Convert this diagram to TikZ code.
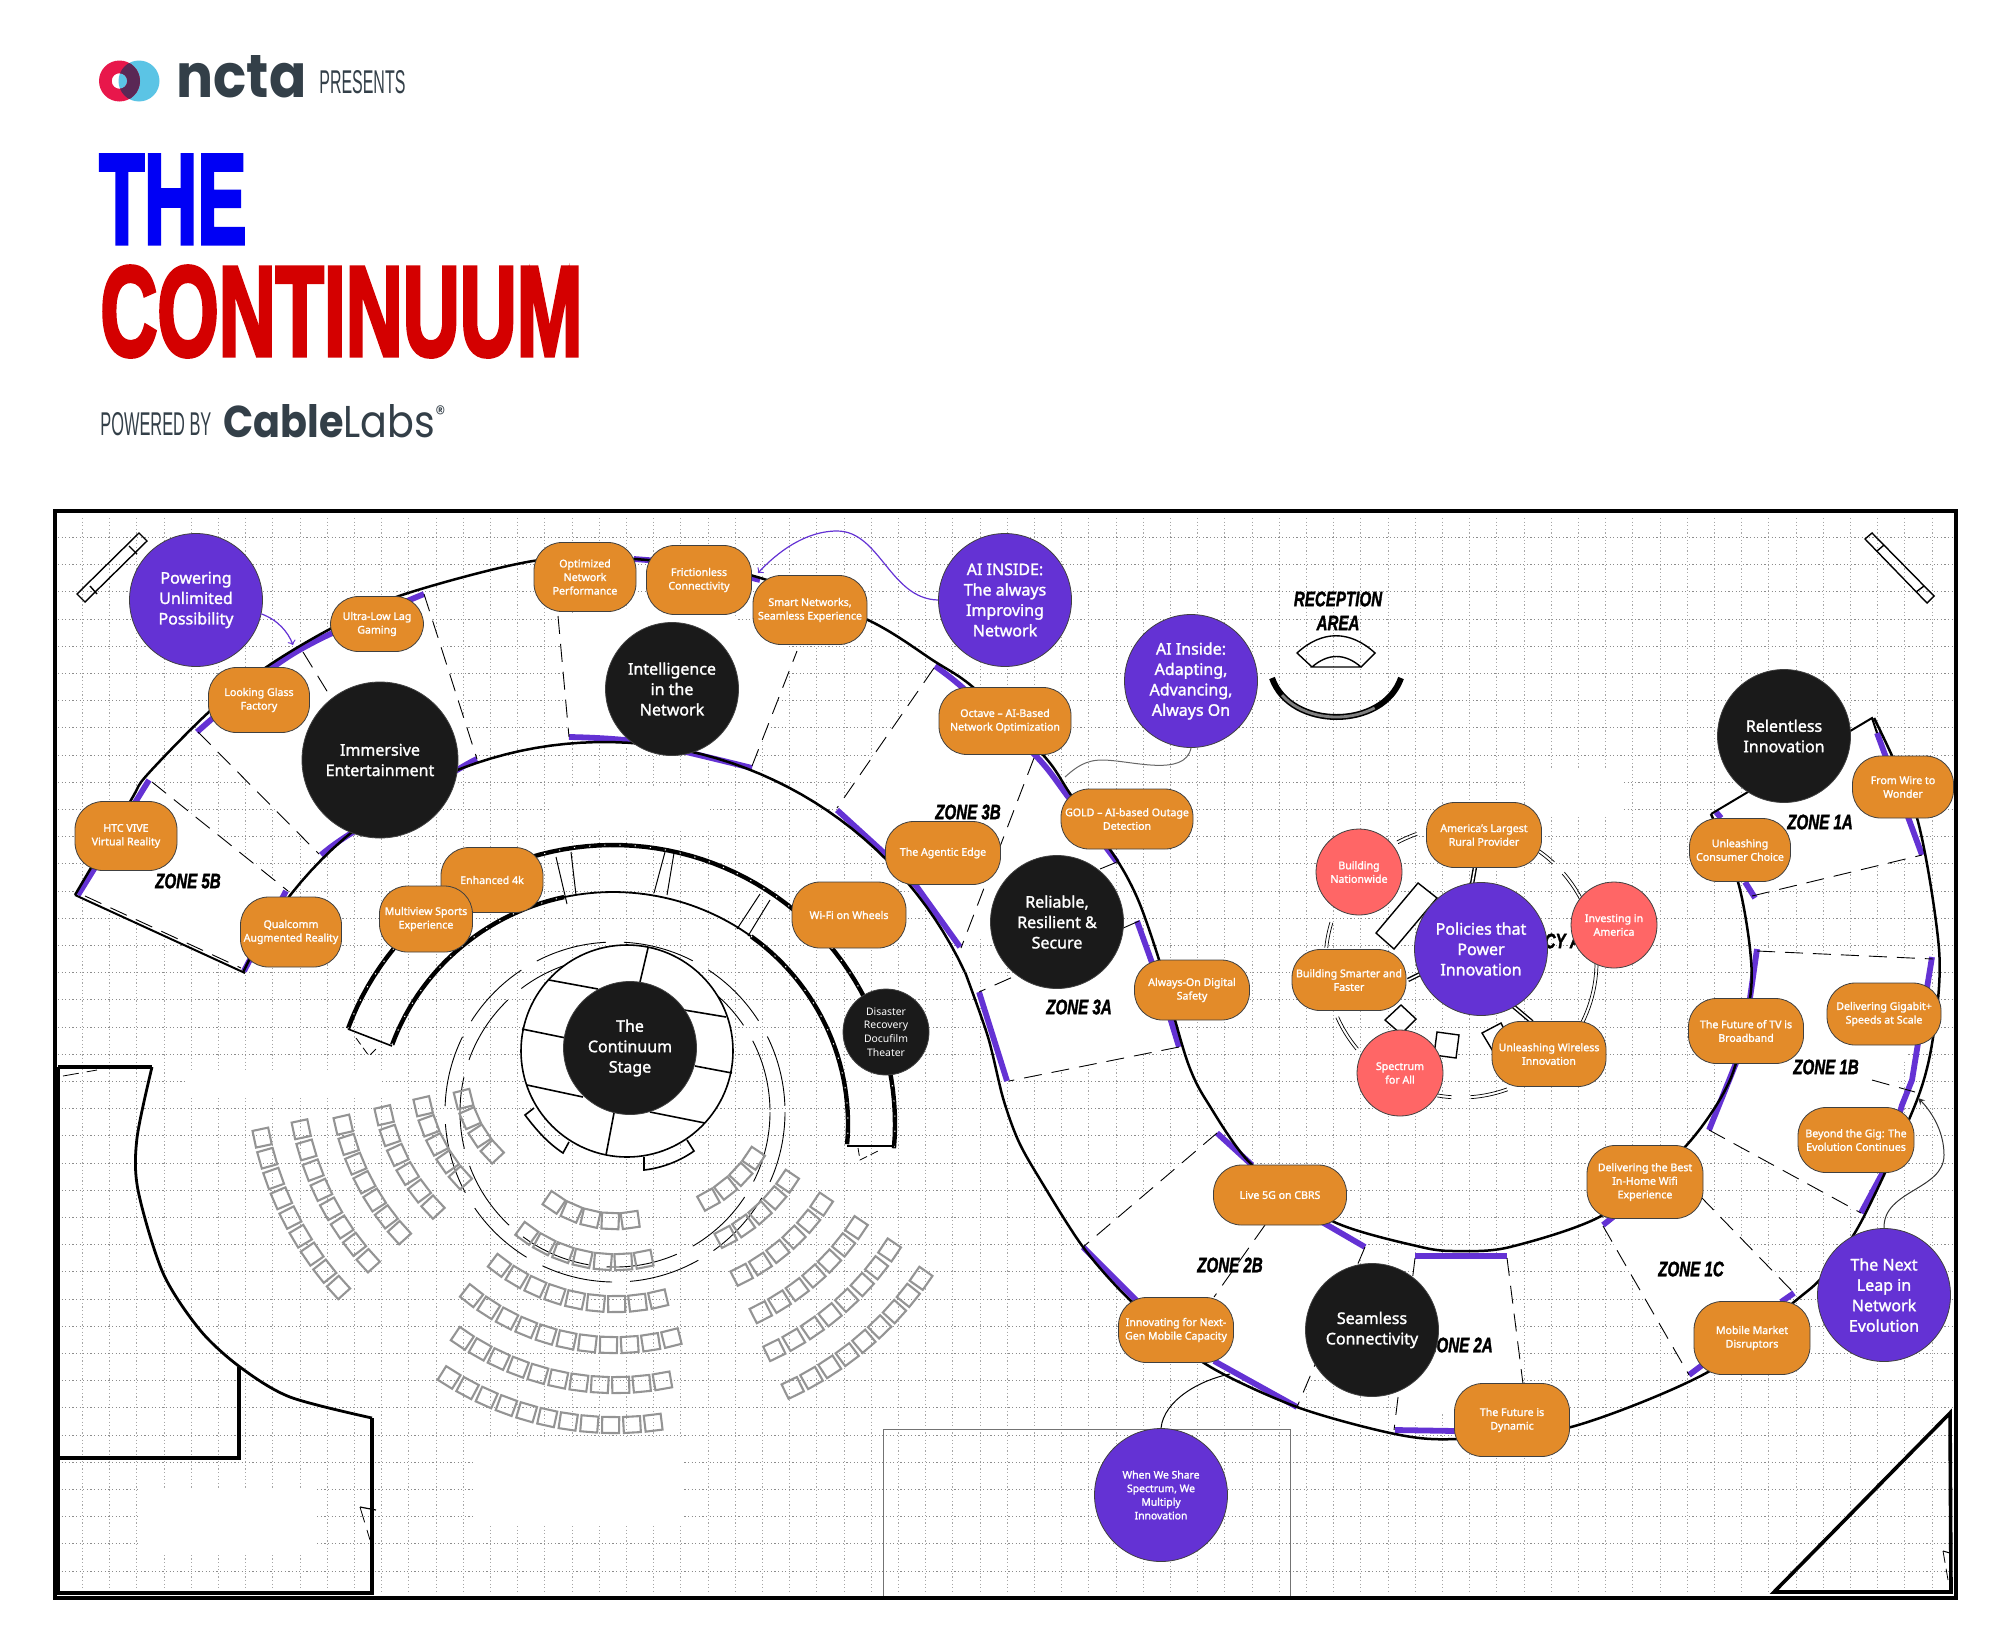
\documentclass[tikz,border=0pt]{standalone}
\usepackage{fontspec}
\usepackage{graphicx}
\usepackage{xcolor}
\usepackage{tikz}
\setmainfont{Noto Sans}[BoldFont=*,BoldFeatures={FakeBold=1.6}]
\setsansfont{Liberation Sans}
\newfontfamily\labsfont{Poppins}
\newfontfamily\headfont[BoldFeatures={FakeBold=3.5}]{Liberation Sans}
\newfontfamily\zonefont[BoldItalicFeatures={FakeBold=2}]{Liberation Sans}
\definecolor{boxorange}{RGB}{227,139,41}
\definecolor{zonepurple}{RGB}{100,50,212}
\definecolor{bubblepink}{RGB}{255,102,102}
\definecolor{darkdot}{RGB}{26,26,26}
\definecolor{logogray}{RGB}{51,63,72}
\definecolor{logored}{RGB}{232,23,75}
\definecolor{logoblue}{RGB}{91,196,229}
\definecolor{logodark}{RGB}{90,40,85}
\definecolor{theblue}{RGB}{0,0,245}
\definecolor{thered}{RGB}{212,0,0}
\tikzset{
	obox/.style 2 args={rectangle,rounded corners=14pt,draw=black!75,thin,fill=boxorange,text=white,align=center,inner sep=0pt,minimum width=#1*0.5pt,minimum height=#2*0.5pt,font=\fontsize{5.3pt}{6.8pt}\selectfont\bfseries},
	bubble/.style={circle,draw=black!75,thin,text=white,align=center,inner sep=0pt,minimum size=#1*1pt,font=\fontsize{8pt}{10.2pt}\selectfont\bfseries},
	pbub/.style={bubble=#1,fill=zonepurple},
	kbub/.style={bubble=#1,fill=darkdot},
	rbub/.style={circle,draw=black!75,thin,fill=bubblepink,text=white,align=center,inner sep=0pt,minimum size=43pt,font=\fontsize{5.3pt}{6.8pt}\selectfont\bfseries},
	zonelabel/.style={inner sep=0pt,xscale=0.72,align=center,font=\zonefont\fontsize{10.5pt}{12pt}\selectfont\bfseries\itshape},
	wallline/.style={line width=1.25pt,black},
	zonebar/.style={line width=2.9pt,zonepurple},
	zonedash/.style={line width=0.45pt,black,dash pattern=on 9pt off 5pt},
	zonefill/.style={fill=white,draw=none},
	roomline/.style={line width=1.7pt,black},
	stageline/.style={line width=0.8pt,black},
	thickwall/.style={line width=2.2pt,black,postaction={draw,white,line width=0.5pt,dash pattern=on 0.6pt off 7pt}},
	ringline/.style={line width=0.45pt,black,dash pattern=on 36pt off 9pt},
	doublebar/.style={draw=black,double=white,line width=0.7pt,double distance=0.8pt},
	chair/.style={line width=1.05pt,black!42},
}
\newcommand{\seatrow}[6]{\foreach \seatnum in {1,...,#6}{\pgfmathsetmacro{\seatang}{#4+(\seatnum-1)*(#5-#4)/(#6-1)}\draw[chair,shift={({#1+#3*cos(\seatang)},{#2+#3*sin(\seatang)})},rotate=-\seatang] (-8,-8.5) rectangle (8,8.5);}}
\newcommand{\ringarc}[2]{\draw[line width=0.35pt] plot[domain=#1:#2,samples=12] ({1461+134*cos(\x)},{962+134*sin(\x)}); \draw[line width=0.35pt] plot[domain=#1:#2,samples=12] ({1461+137*cos(\x)},{962+137*sin(\x)});}
\begin{document}
\begin{tikzpicture}[x=0.5pt,y=-0.5pt]
	\useasboundingbox (0,0) rectangle (2000,1638);

	\fill[logoblue] (139,81) circle[radius=20.5];
	\fill[logored,even odd rule] (119.5,81) circle[radius=20.5] (119.5,81) circle[radius=7.8];
	\begin{scope}
		\clip (139,81) circle[radius=20.5];
		\fill[logodark,even odd rule] (119.5,81) circle[radius=20.5] (119.5,81) circle[radius=7.8];
	\end{scope}
	\node[anchor=north west,inner sep=0pt] (nctaword) at (176,55) {\resizebox{65pt}{21pt}{\color{logogray}\labsfont\bfseries ncta}};
	\node[anchor=north west,inner sep=0pt] (presents) at (319,70) {\resizebox{43pt}{11.5pt}{\color{logogray}\sffamily PRESENTS}};
	\node[anchor=north west,inner sep=0pt] (thetitle) at (99,155) {\resizebox{73.5pt}{44pt}{\color{theblue}\headfont\bfseries THE}};
	\node[anchor=north west,inner sep=0pt] (conttitle) at (100,266) {\resizebox{241pt}{44.5pt}{\color{thered}\headfont\bfseries CONTINUUM}};
	\node[anchor=north west,inner sep=0pt] (powered) at (100,412) {\resizebox{55.5pt}{11.5pt}{\color{logogray}\sffamily POWERED BY}};
	\node[anchor=north west,inner sep=0pt] (cablelabs) at (223,404) {\resizebox{112pt}{16.5pt}{\color{logogray}\labsfont{\bfseries Cable}Labs\textsuperscript{\tiny ®}}};

	\foreach \gx in {0,...,69}
		\draw[gray!70,line width=0.5pt,dash pattern=on 0.6pt off 1.2pt] ({82.4-27.2+27.2*\gx},518) -- ({82.4-27.2+27.2*\gx},1592);
	\foreach \gy in {0,...,38}
		\draw[gray!90,line width=0.5pt,dash pattern=on 0.6pt off 1.2pt] (58,{537.5+27.2*\gy}) -- (1952,{537.5+27.2*\gy});
	\fill[white] (549,788) rectangle (710,830);
	\fill[white] (1527,770) rectangle (1623,815);
	\fill[white] (474,1440) rectangle (682,1525);
	\fill[white] (140,1488) rectangle (317,1555);
	\fill[white] (187,1072) rectangle (382,1098);

	\fill[zonefill] (78,895) -- (149,780) -- (288,891) -- (245,971) -- cycle;
	\fill[zonefill] (197,732) -- (268,666) -- (330,629) -- (424,594) -- (477,759) -- (400,790) -- (321,855) -- cycle;
	\fill[zonefill] (558,616) -- (569,737) -- (620,745) -- (752,766) -- (797,651) -- (700,600) -- cycle;
	\fill[zonefill] (935,666) -- (1036,756) -- (1117,862) -- (961,948) -- (837,808) -- cycle;
	\fill[zonefill] (1137,921) -- (1179,1047) -- (1009,1081) -- (979,992) -- cycle;
	\fill[zonefill] (1217,1133) -- (1083,1247) -- (1131,1301) -- (1214,1361) -- (1297,1407) -- (1365,1247) -- (1252,1165) -- cycle;
	\fill[zonefill] (1415,1258) -- (1507,1258) -- (1523,1384) -- (1394,1430) -- cycle;
	\fill[zonefill] (1603,1226) -- (1701,1197) -- (1794,1293) -- (1689,1375) -- cycle;
	\fill[zonefill] (1709,1130) -- (1757,949) -- (1933,959) -- (1861,1213) -- cycle;
	\fill[zonefill] (1752,896) -- (1922,855) -- (1872,718) -- (1711,814) -- cycle;

	\draw[zonebar] (78,895) -- (149,780);
	\draw[zonebar] plot[smooth] coordinates {(197,732) (272,668) (326,636) (424,594)};
	\draw[zonebar] (286,891) -- (244,971);
	\draw[zonebar] plot[smooth] coordinates {(321,855) (350,834) (457,770) (477,759)};
	\draw[zonebar] plot[smooth] coordinates {(569,737) (640,742) (752,768)};
	\draw[zonebar] (634,559) -- (660,561);
	\draw[zonebar] (740,575) -- (760,580);
	\draw[zonebar] plot[smooth] coordinates {(935,666) (963,688) (1036,756) (1069,798) (1117,862)};
	\draw[zonebar] (837,810) -- (883,852) -- (917,887) -- (960,947);
	\draw[zonebar] (1137,921) -- (1160,985) -- (1179,1047);
	\draw[zonebar] (979,992) -- (1007,1081);
	\draw[zonebar] (1217,1133) -- (1252,1165);
	\draw[zonebar] (1322,1222) -- (1365,1247);
	\draw[zonebar] (1415,1256) -- (1507,1256);
	\draw[zonebar] (1603,1225) -- (1613,1217);
	\draw[zonebar] (1709,1130) -- (1736,1063) -- (1750,998) -- (1757,949);
	\draw[zonebar] (1861,1213) -- (1883,1172) -- (1902,1105) -- (1912,1080) -- (1932,957);
	\draw[zonebar] (1083,1247) -- (1137,1301);
	\draw[zonebar] (1214,1361) -- (1297,1407);
	\draw[zonebar] (1395,1430) -- (1456,1431);
	\draw[zonebar] (1689,1375) -- (1705,1363);
	\draw[zonebar] (1781,1302) -- (1794,1293);
	\draw[zonebar] (1716,812) -- (1721,818);
	\draw[zonebar] (1745,882) -- (1755,898);
	\draw[zonebar] (1877,733) -- (1922,855);

	\draw[wallline] plot[smooth] coordinates {(75,895) (131,800) (147,775) (210,711) (268,666) (330,629) (402,595) (533,561) (634,559) (750,575) (868,620) (934,661) (974,688) (1044,756) (1071,795) (1117,860) (1139,902) (1160,963) (1175,1020) (1189,1066) (1206,1100) (1252,1165) (1332,1221) (1421,1247) (1459,1251) (1510,1247) (1603,1215) (1684,1148) (1730,1080) (1750,998) (1750,949) (1738,882) (1711,814)};
	\draw[wallline] plot[domain=-155:-25,samples=60] ({604+398*cos(\x)},{1140+398*sin(\x)});
	\draw[wallline] plot[smooth] coordinates {(965,972) (988,1037) (1003,1098) (1018,1140) (1038,1176) (1083,1247) (1131,1301) (1204,1363) (1297,1407) (1395,1434) (1456,1439) (1571,1427) (1708,1372) (1794,1302) (1823,1276) (1861,1222) (1917,1100) (1934,1031) (1939,949) (1917,818) (1874,718)};
	\draw[line width=1pt,black] (75,895) -- (245,973);
	\draw[line width=1pt,black] (1711,814) -- (1872,718) -- (1877,733);

	\draw[zonedash] (152,782) -- (288,891);
	\draw[zonedash] (198,732) -- (319,854);
	\draw[zonedash] (303,652) -- (330,696);
	\draw[zonedash] (424,594) -- (477,759);
	\draw[zonedash] (85,896) -- (241,968);
	\draw[zonedash] (558,616) -- (569,737);
	\draw[zonedash] (752,766) -- (797,651);
	\draw[zonedash] (934,668) -- (837,808);
	\draw[zonedash] (1034,758) -- (961,948);
	\draw[zonedash] (1100,869) -- (1117,862);
	\draw[zonedash] (1139,921) -- (979,992);
	\draw[zonedash] (1179,1047) -- (1009,1081);
	\draw[zonedash] (1217,1133) -- (1083,1247);
	\draw[zonedash] (1265,1225) -- (1214,1297);
	\draw[zonedash] (1365,1247) -- (1297,1407);
	\draw[zonedash] (1415,1258) -- (1394,1430);
	\draw[zonedash] (1507,1258) -- (1523,1384);
	\draw[zonedash] (1603,1226) -- (1689,1375);
	\draw[zonedash] (1701,1197) -- (1794,1293);
	\draw[zonedash] (1709,1130) -- (1861,1213);
	\draw[zonedash] (1752,896) -- (1922,855);
	\draw[zonedash] (1757,951) -- (1933,959);
	\draw[zonedash] (1872,1080) -- (1915,1092);

	\draw[roomline] (58,1067) -- (152,1067);
	\draw[line width=1.4pt] plot[smooth] coordinates {(152,1067) (137,1138) (138,1190) (163,1273) (200,1330) (240,1367) (290,1397) (372,1418)};
	\draw[roomline] (372,1418) -- (372,1593) -- (58,1593) -- (58,1067);
	\draw[roomline] (239,1367) -- (239,1458) -- (58,1458);
	\draw[line width=0.4pt,dash pattern=on 8pt off 4pt] (63,1076) -- (97,1070);
	\draw[line width=1.5pt] (65,1067) -- (72,1067);
	\draw[line width=0.4pt,dash pattern=on 8pt off 4pt] (360,1507) -- (370,1540);
	\draw[line width=0.6pt] (360,1507) -- (376,1510);
	\draw[line width=1.8pt] (1774,1592) -- (1950,1413) -- (1951,1592) -- cycle;
	\draw[line width=0.5pt] (1943,1551) -- (1950,1553);
	\draw[line width=0.4pt,dash pattern=on 6pt off 3pt] (1943,1551) -- (1948,1580);
	\draw[black!55,line width=0.5pt] (883,1598) -- (883,1429) -- (1290,1429) -- (1290,1598);
	\draw[line width=1.6pt] (55,511) rectangle (1956,1598);

	\draw[thickwall] plot[domain=-160:5,samples=70] ({613+3*cos(\x)+279*cos(\x)},{1124+279*sin(\x)});
	\draw[thickwall] plot[domain=-160:-102,samples=30] ({613+3*cos(\x)+232*cos(\x)},{1124+232*sin(\x)});
	\draw[line width=0.9pt] plot[domain=-102:-54,samples=30] ({613+3*cos(\x)+232*cos(\x)},{1124+232*sin(\x)});
	\draw[thickwall] plot[domain=-54:5,samples=30] ({613+3*cos(\x)+232*cos(\x)},{1124+232*sin(\x)});
	\draw[line width=0.8pt] (348,1029) -- (392,1046);
	\draw[line width=0.8pt] (847,1146) -- (894,1146);
	\draw[line width=0.5pt] (556,857) -- (567,904);
	\draw[line width=0.5pt] (571,852) -- (576,895);
	\draw[line width=0.5pt] (665,852) -- (654,893);
	\draw[line width=0.5pt] (674,853) -- (667,895);
	\draw[line width=0.5pt] (760,894) -- (737,929);
	\draw[line width=0.5pt] (770,900) -- (748,936);
	\draw[line width=0.4pt,dash pattern=on 4pt off 2pt] (356,1038) -- (369,1056) -- (378,1047);
	\draw[line width=0.4pt,dash pattern=on 4pt off 2pt] (858,1148) -- (860,1160) -- (880,1150);

	\draw[ringline] (615,1112) circle[radius=170];
	\draw[ringline] (615,1112) circle[radius=155];

	\fill[white] (627,1051) circle[radius=106];
	\draw[stageline] (627,1051) circle[radius=106];
	\draw[stageline] (522,1029) -- (566,1038);
	\draw[stageline] (695,1066) -- (732,1073);
	\draw[stageline] (684,1010) -- (726,1017);
	\draw[stageline] (527,1085) -- (583,1097);
	\draw[stageline] (614,1113) -- (606,1155);
	\draw[stageline] (650,1112) -- (705,1123);
	\draw[stageline] (648,948) -- (640,982);
	\draw[stageline] (549,980) -- (598,989);
	\draw[stageline] (534,1108) -- (525,1115) .. controls (538,1132) and (548,1143) .. (563,1153) -- (569,1142);
	\draw[stageline] (644,1157) -- (644,1170) .. controls (662,1168) and (680,1161) .. (694,1151) -- (687,1140);

	\seatrow{615}{1112}{109}{124}{82}{5}
	\seatrow{615}{1112}{150}{126}{79}{7}
	\seatrow{615}{1112}{192}{127}{77}{9}
	\seatrow{615}{1112}{233}{128}{76}{11}
	\seatrow{615}{1112}{273}{124}{80}{11}
	\seatrow{615}{1112}{313}{122}{83}{11}
	\seatrow{645}{1085}{131}{61}{34}{4}
	\seatrow{645}{1085}{172}{62}{34}{5}
	\seatrow{645}{1085}{213}{63}{34}{6}
	\seatrow{645}{1085}{255}{63}{34}{7}
	\seatrow{645}{1085}{295}{64}{34}{8}
	\seatrow{645}{1085}{337}{64}{35}{9}
	\seatrow{580}{1070}{120}{166}{137}{4}
	\seatrow{580}{1070}{161}{167}{138}{5}
	\seatrow{580}{1070}{201}{167}{137}{6}
	\seatrow{580}{1070}{243}{167}{138}{7}
	\seatrow{580}{1070}{285}{168}{138}{8}
	\seatrow{580}{1070}{325}{168}{138}{9}

	\draw[line width=0.7pt] (139,533) -- (147,541) -- (85,602) -- (77,594) -- cycle;
	\draw[line width=0.7pt] (129,546) -- (137,554);
	\draw[line width=0.7pt] (90,586) -- (97,594);
	\draw[line width=0.7pt] (1872,533) -- (1865,539) -- (1927,603) -- (1934,596) -- cycle;
	\draw[line width=0.7pt] (1884,545) -- (1877,551);
	\draw[line width=0.7pt] (1924,586) -- (1916,592);

	\draw[line width=0.7pt] (1312,667) -- (1297,653) .. controls (1322,630) and (1350,630) .. (1375,653) -- (1361,667) .. controls (1345,653) and (1328,653) .. (1312,667) -- (1361,667);
	\draw[line width=3pt,black] (1272,678) .. controls (1290,730) and (1383,730) .. (1401,678);
	\draw[line width=1.4pt,black!50,dash pattern=on 0pt off 10pt on 50pt off 100pt] (1272,678) .. controls (1290,730) and (1383,730) .. (1401,678);

	\ringarc{186}{197}
	\ringarc{140}{156}
	\ringarc{94}{100}
	\ringarc{70}{86}
	\ringarc{0}{27}
	\ringarc{-41}{-28}
	\ringarc{-56}{-47}
	\ringarc{-118}{-109}
	\draw[fill=white,line width=0.7pt] (1418,883) -- (1437,898) -- (1394,949) -- (1376,933) -- cycle;
	\draw[fill=white,line width=0.7pt] (1401,1005) -- (1416,1019) -- (1401,1034) -- (1385,1020) -- cycle;
	\draw[fill=white,line width=0.7pt] (1437,1032) -- (1459,1035) -- (1456,1058) -- (1434,1055) -- cycle;
	\draw[fill=white,line width=0.7pt] (1482,1033) -- (1501,1023) -- (1511,1043) -- (1494,1053) -- cycle;
	\draw[doublebar] (1475,867) -- (1472,884);
	\draw[doublebar] (1408,980) -- (1422,973);
	\draw[doublebar] (1513,1006) -- (1532,1022);

	\node[zonelabel] (zfiveb) at (188,881) {ZONE 5B};
	\node[zonelabel] (zthreeb) at (968,812) {ZONE 3B};
	\node[zonelabel] (zthreea) at (1079,1007) {ZONE 3A};
	\node[zonelabel] (zonea) at (1820,822) {ZONE 1A};
	\node[zonelabel] (zoneb) at (1826,1067) {ZONE 1B};
	\node[zonelabel] (zonec) at (1691,1269) {ZONE 1C};
	\node[zonelabel] (ztwob) at (1230,1265) {ZONE 2B};
	\node[zonelabel] (ztwoa) at (1460,1345) {ZONE 2A};
	\node[zonelabel] (policyarea) at (1561,941) {POLICY AREA};
	\node[zonelabel] (reception) at (1338,599) {RECEPTION};
	\node[zonelabel] (receparea) at (1338,623) {AREA};

	\node[kbub=78] (immersive) at (380,760) {Immersive\\Entertainment};
	\node[kbub=66.5] (intelligence) at (672,689) {Intelligence\\in the\\Network};
	\node[kbub=66.5] (reliable) at (1057,922) {Reliable,\\Resilient \&\\Secure};
	\node[kbub=66.5] (relentless) at (1784,736) {Relentless\\Innovation};
	\node[kbub=66.5] (seamless) at (1372,1330) {Seamless\\Connectivity};
	\node[kbub=66.5] (stage) at (630,1048) {The\\Continuum\\Stage};
	\node[kbub=43,font=\fontsize{5.2pt}{6.9pt}\selectfont] (disaster) at (886,1032) {Disaster\\Recovery\\Docufilm\\Theater};
	\node[pbub=66.5] (powering) at (196,600) {Powering\\Unlimited\\Possibility};
	\node[pbub=66.5] (aiinside) at (1005,600) {AI INSIDE:\\The always\\Improving\\Network};
	\node[pbub=66.5] (adapting) at (1191,681) {AI Inside:\\Adapting,\\Advancing,\\Always On};
	\node[pbub=66.5] (policies) at (1481,949) {Policies that\\Power\\Innovation};
	\node[pbub=66.5] (nextleap) at (1884,1295) {The Next\\Leap in\\Network\\Evolution};
	\node[pbub=66.5,font=\fontsize{5.2pt}{6.8pt}\selectfont\bfseries] (sharespec) at (1161,1495) {When We Share\\Spectrum, We\\Multiply\\Innovation};
	\node[rbub] (buildnation) at (1359,872) {Building\\Nationwide};
	\node[rbub] (investing) at (1614,925) {Investing in\\America};
	\node[rbub] (spectrum) at (1400,1073) {Spectrum\\for All};

	\node[obox={93}{55}] (ultralow) at (377,624) {Ultra-Low Lag\\Gaming};
	\node[obox={101}{65}] (lookglass) at (259,700) {Looking Glass\\Factory};
	\node[obox={102}{69}] (htcvive) at (126,836) {HTC VIVE\\Virtual Reality};
	\node[obox={101}{70}] (qualcomm) at (291,932) {Qualcomm\\Augmented Reality};
	\node[obox={102}{65}] (enhanced) at (492,880) {Enhanced 4k};
	\node[obox={93}{66}] (multiview) at (426,919) {Multiview Sports\\Experience};
	\node[obox={102}{69}] (optimized) at (585,577) {Optimized\\Network\\Performance};
	\node[obox={105}{69}] (frictionless) at (699,580) {Frictionless\\Connectivity};
	\node[obox={114}{69}] (smartnet) at (810,610) {Smart Networks,\\Seamless Experience};
	\node[obox={132}{67}] (octave) at (1005,721) {Octave – AI-Based\\Network Optimization};
	\node[obox={132}{60}] (goldai) at (1127,819) {GOLD – AI-based Outage\\Detection};
	\node[obox={115}{63}] (agentic) at (943,853) {The Agentic Edge};
	\node[obox={114}{66}] (wifiwheels) at (849,915) {Wi-Fi on Wheels};
	\node[obox={115}{60}] (alwayson) at (1192,990) {Always-On Digital\\Safety};
	\node[obox={115}{65}] (americas) at (1484,835) {America's Largest\\Rural Provider};
	\node[obox={114}{61}] (smarter) at (1349,980) {Building Smarter and\\Faster};
	\node[obox={114}{65}] (wireless) at (1549,1054) {Unleashing Wireless\\Innovation};
	\node[obox={101}{63}] (consumer) at (1740,850) {Unleashing\\Consumer Choice};
	\node[obox={101}{62}] (wirewonder) at (1903,787) {From Wire to\\Wonder};
	\node[obox={115}{65}] (futuretv) at (1746,1031) {The Future of TV is\\Broadband};
	\node[obox={114}{62}] (gigabit) at (1884,1014) {Delivering Gigabit+\\Speeds at Scale};
	\node[obox={116}{65}] (beyondgig) at (1856,1140) {Beyond the Gig: The\\Evolution Continues};
	\node[obox={116}{73}] (homewifi) at (1645,1182) {Delivering the Best\\In-Home Wifi\\Experience};
	\node[obox={133}{60}] (livefiveg) at (1280,1195) {Live 5G on CBRS};
	\node[obox={115}{65}] (nextgen) at (1176,1330) {Innovating for Next-\\Gen Mobile Capacity};
	\node[obox={116}{73}] (mobilemkt) at (1752,1338) {Mobile Market\\Disruptors};
	\node[obox={115}{73}] (dynamic) at (1512,1420) {The Future is\\Dynamic};

	\coordinate (powertip) at (293,645);
	\coordinate (smarttip) at (758,573);
	\coordinate (goldtip) at (1065,777);
	\coordinate (leaptip) at (1918,1098);
	\coordinate (sharetip) at (1230,1374);
	\draw[->,zonepurple,line width=0.6pt] (powering.-12) .. controls (278,620) and (288,632) .. (powertip);
	\draw[->,zonepurple,line width=0.6pt] (aiinside.west) .. controls (890,599) and (880,531) .. (837,531) .. controls (800,531) and (770,560) .. (smarttip);
	\draw[black!60,line width=0.5pt] (adapting.south) .. controls (1185,778) and (1130,760) .. (1102,760) .. controls (1085,760) and (1075,768) .. (goldtip);
	\draw[-stealth,black!80,line width=0.5pt] (nextleap.north) .. controls (1883,1190) and (1944,1190) .. (1944,1155) .. controls (1944,1130) and (1930,1110) .. (leaptip);
	\draw[black,line width=0.5pt] (sharespec.north) .. controls (1164,1400) and (1200,1380) .. (sharetip);
\end{tikzpicture}
\end{document}
